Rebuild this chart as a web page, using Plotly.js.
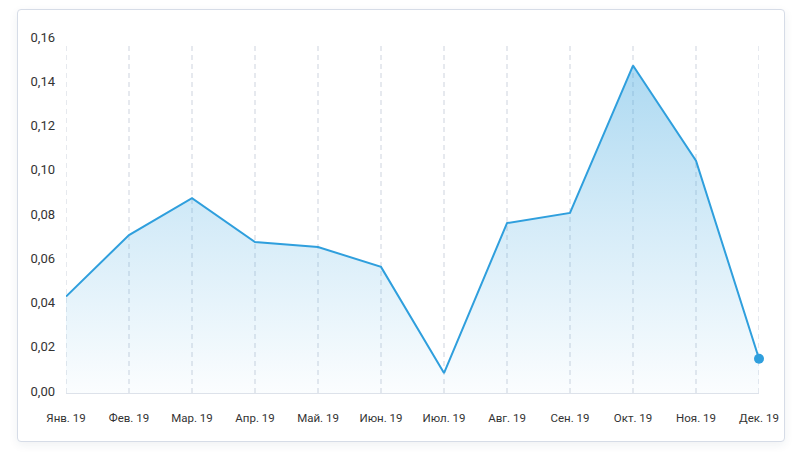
<!DOCTYPE html>
<html>
<head>
<meta charset="utf-8">
<script src="https://cdn.plot.ly/plotly-3.0.1.min.js"></script>
<style>
  html, body { margin: 0; padding: 0; background: #ffffff; width: 802px; height: 467px; overflow: hidden; }
  #card { position: absolute; left: 17px; top: 9px; width: 766px; height: 431px; border: 1px solid #d6dce7; border-radius: 4px; box-shadow: 0 3px 10px rgba(30,50,90,0.07); background: #fff; }
  #chart { position: absolute; left: 0; top: 0; width: 802px; height: 467px; }
</style>
</head>
<body>
<div id="card"></div>
<div id="chart"></div>
<script>
const months = ["Янв. 19", "Фев. 19", "Мар. 19", "Апр. 19", "Май. 19", "Июн. 19", "Июл. 19", "Авг. 19", "Сен. 19", "Окт. 19", "Ноя. 19", "Дек. 19"];
const values = [0.0436, 0.0714, 0.0881, 0.0682, 0.0660, 0.0570, 0.0090, 0.0768, 0.0814, 0.1480, 0.1050, 0.0155];
const yTicks = [0, 0.02, 0.04, 0.06, 0.08, 0.10, 0.12, 0.14, 0.16];

const lineColor = "#2f9fdd";

const areaTrace = {
  type: "scatter",
  mode: "lines",
  x: months,
  y: values,
  fill: "tozeroy",
  fillgradient: {
    type: "vertical",
    start: 0,
    stop: 0.15,
    colorscale: [[0, "rgba(47,159,221,0.02)"], [0.5, "rgba(47,159,221,0.2)"], [1, "rgba(47,159,221,0.4)"]]
  },
  line: { color: lineColor, width: 2 },
  hoverinfo: "skip",
  cliponaxis: false
};

const lastTrace = {
  type: "scatter",
  mode: "markers",
  x: [months[months.length - 1]],
  y: [values[values.length - 1]],
  marker: { color: lineColor, size: 10 },
  cliponaxis: false,
  hoverinfo: "skip"
};

const gridShapes = months.map(m => ({
  type: "line",
  xref: "x",
  yref: "paper",
  x0: m, x1: m,
  y0: 0, y1: 0.99,
  layer: "below",
  line: { color: "#cdd3de", width: 1, dash: "5px,4px" }
}));

const layout = {
  width: 802,
  height: 467,
  margin: { l: 66, r: 43, t: 39, b: 74 },
  paper_bgcolor: "rgba(0,0,0,0)",
  plot_bgcolor: "rgba(0,0,0,0)",
  showlegend: false,
  separators: ", ",
  font: { family: "Roboto, sans-serif", color: "#333333" },
  shapes: gridShapes,
  xaxis: {
    type: "category",
    range: [0, months.length - 1],
    showgrid: false,
    showline: true,
    linecolor: "#dde2ea",
    linewidth: 1,
    zeroline: false,
    ticks: "",
    ticklabelstandoff: 14,
    tickfont: { size: 11.5, color: "#333333" }
  },
  yaxis: {
    range: [0, 0.16],
    tickvals: yTicks,
    tickformat: ".2f",
    showgrid: false,
    zeroline: false,
    showline: false,
    ticks: "",
    ticklabelstandoff: 10,
    ticklabelshift: -2,
    tickfont: { size: 13, color: "#333333" }
  }
};

Plotly.newPlot("chart", [areaTrace, lastTrace], layout, { displayModeBar: false, staticPlot: true });
</script>
</body>
</html>
